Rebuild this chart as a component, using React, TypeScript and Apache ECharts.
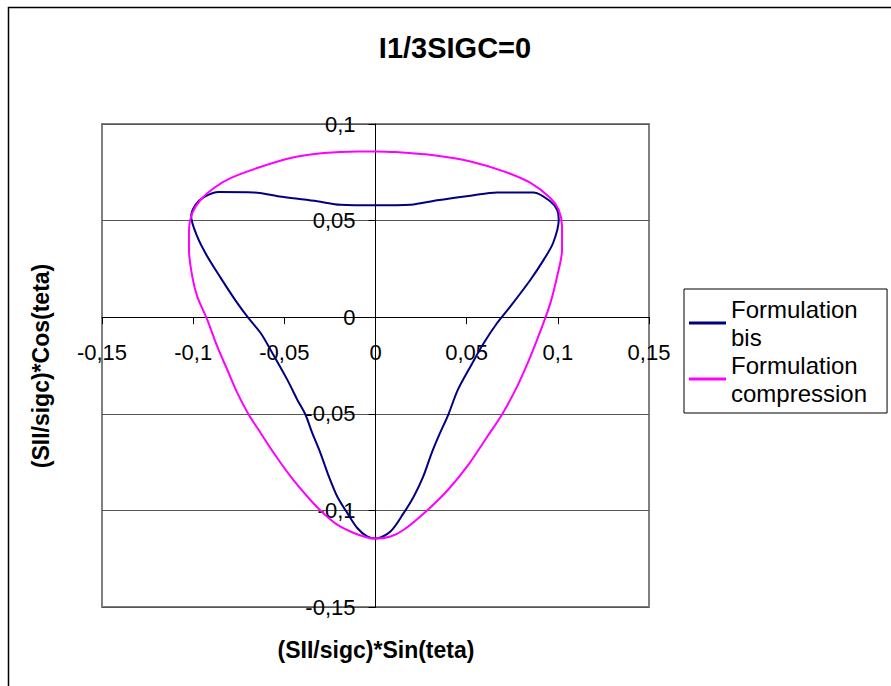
import React, { useEffect, useRef } from "react";
import * as echarts from "echarts";

const titleText = "I1/3SIGC=0";
const xAxisTitle = "(SII/sigc)*Sin(teta)";
const yAxisTitle = "(SII/sigc)*Cos(teta)";
const seriesNames = ["Formulation\nbis", "Formulation\ncompression"];

const xTicks = [-0.15, -0.1, -0.05, 0, 0.05, 0.1, 0.15];
const yTicks = [-0.15, -0.1, -0.05, 0, 0.05, 0.1];

const bisPoints: [number, number][] = [
  [0, 0.0579], [0.0192, 0.0582], [0.0338, 0.0605], [0.0521, 0.0629], [0.0667, 0.0646],
  [0.0868, 0.0646], [0.0959, 0.0599], [0.0996, 0.0556], [0.1005, 0.0505], [0.0974, 0.0384],
  [0.0923, 0.0298], [0.085, 0.0194], [0.074, 0.0056], [0.0667, -0.003], [0.0594, -0.0134],
  [0.0521, -0.0255], [0.0452, -0.0375], [0.0399, -0.0505], [0.0354, -0.0599], [0.0308, -0.0703],
  [0.0262, -0.0824], [0.021, -0.0928], [0.0155, -0.1013], [0.0082, -0.1109], [0, -0.1146],
  [-0.0046, -0.1135], [-0.01, -0.1091], [-0.0155, -0.1013], [-0.021, -0.0928], [-0.0256, -0.0824],
  [-0.0302, -0.0703], [-0.0347, -0.0599], [-0.0384, -0.0505], [-0.0429, -0.0427], [-0.0484, -0.0323],
  [-0.0576, -0.0168], [-0.063, -0.0082], [-0.0704, 0.0004], [-0.077, 0.009], [-0.085, 0.0205],
  [-0.0923, 0.0315], [-0.0978, 0.0418], [-0.1011, 0.0522], [-0.0987, 0.0582], [-0.0941, 0.0622],
  [-0.0859, 0.0648], [-0.0667, 0.0646], [-0.0503, 0.0622], [-0.032, 0.06], [-0.0192, 0.0582],
  [0, 0.0579],
];

const compressionPoints: [number, number][] = [
  [0, 0.0858], [0.01, 0.0855], [0.0338, 0.0836], [0.0521, 0.0806], [0.0703, 0.0755],
  [0.085, 0.0695], [0.0959, 0.0617], [0.1005, 0.0556], [0.1023, 0.047], [0.1023, 0.0349],
  [0.0996, 0.0211], [0.0959, 0.0073], [0.0914, -0.0048], [0.085, -0.0203], [0.0777, -0.0358],
  [0.0693, -0.0505], [0.0602, -0.0634], [0.051, -0.0763], [0.0398, -0.0893], [0.0283, -0.1],
  [0.0155, -0.11], [0.0082, -0.1135], [0, -0.1146], [-0.0046, -0.114], [-0.0119, -0.1117],
  [-0.021, -0.1074], [-0.0302, -0.1], [-0.0374, -0.0928], [-0.0466, -0.0824], [-0.0558, -0.0703],
  [-0.063, -0.0599], [-0.0695, -0.0505], [-0.0758, -0.0392], [-0.0813, -0.0272], [-0.0868, -0.0151],
  [-0.0923, -0.0013], [-0.0978, 0.0108], [-0.1005, 0.0211], [-0.1023, 0.0349], [-0.1023, 0.0453],
  [-0.1005, 0.0539], [-0.0959, 0.0608], [-0.0886, 0.0669], [-0.0795, 0.072], [-0.0649, 0.0772],
  [-0.0466, 0.0824], [-0.0283, 0.085], [-0.01, 0.0858], [0, 0.0858],
];

const FONT = "'Liberation Sans', Arial, sans-serif";

const GRID_LEFT = 102;
const GRID_TOP = 124;
const GRID_W = 547;
const GRID_H = 483;

const fmt = (v: number) => {
  const r = Math.round(v * 100) / 100;
  return (r === 0 ? "0" : String(r)).replace(".", ",");
};

export default function App() {
  const ref = useRef<HTMLDivElement>(null);
  useEffect(() => {
    if (!ref.current) return;
    const chart = echarts.init(ref.current, undefined, { renderer: "svg" });
    const xMin = xTicks[0];
    const xMax = xTicks[xTicks.length - 1];
    const yMin = yTicks[0];
    const yMax = yTicks[yTicks.length - 1];
    // axes cross at zero: shift each axis from the grid edge to the zero line
    const xAxisOffset = -(GRID_H * (0 - yMin)) / (yMax - yMin);
    const yAxisOffset = -(GRID_W * (0 - xMin)) / (xMax - xMin);
    chart.setOption({
      animation: false,
      backgroundColor: "#ffffff",
      grid: {
        left: GRID_LEFT,
        top: GRID_TOP,
        width: GRID_W,
        height: GRID_H,
        show: true,
        borderColor: "#808080",
        borderWidth: 2,
        backgroundColor: "transparent",
      },
      xAxis: {
        type: "value",
        position: "bottom",
        offset: xAxisOffset,
        min: xMin,
        max: xMax,
        interval: 0.05,
        axisLine: { onZero: false, lineStyle: { color: "#000", width: 1 } },
        axisTick: { show: true, length: 7, lineStyle: { color: "#000" } },
        splitLine: { show: false },
        axisLabel: {
          formatter: fmt,
          fontFamily: FONT,
          fontSize: 22,
          color: "#000",
          margin: 24,
          showMinLabel: true,
          showMaxLabel: true,
        },
      },
      yAxis: {
        type: "value",
        position: "left",
        offset: yAxisOffset,
        min: yMin,
        max: yMax,
        interval: 0.05,
        axisLine: { onZero: false, lineStyle: { color: "#000", width: 1 } },
        axisTick: { show: true, length: 7, lineStyle: { color: "#000" } },
        splitLine: { show: true, lineStyle: { color: "#555", width: 1 } },
        axisLabel: {
          formatter: fmt,
          fontFamily: FONT,
          fontSize: 22,
          color: "#000",
          margin: 20,
          showMinLabel: true,
          showMaxLabel: true,
        },
      },
      legend: {
        orient: "vertical",
        left: 684,
        top: 289,
        padding: [6, 20, 6, 5],
        itemGap: 0,
        itemWidth: 37,
        itemHeight: 3,
        icon: "rect",
        borderColor: "#000",
        borderWidth: 1,
        backgroundColor: "#fff",
        textStyle: { fontFamily: FONT, fontSize: 24, color: "#000", lineHeight: 28 },
        data: seriesNames,
      },
      series: [
        {
          name: seriesNames[0],
          type: "line",
          data: bisPoints,
          showSymbol: false,
          smooth: 0.3,
          color: "#000080",
          lineStyle: { color: "#000080", width: 2 },
        },
        {
          name: seriesNames[1],
          type: "line",
          data: compressionPoints,
          showSymbol: false,
          smooth: 0.3,
          color: "#ff00ff",
          lineStyle: { color: "#ff00ff", width: 2 },
        },
      ],
      graphic: [
        {
          type: "rect",
          shape: { x: 8.5, y: 7.5, width: 1000, height: 1000 },
          style: { fill: "none", stroke: "#000", lineWidth: 1.5 },
          silent: true,
        },
        {
          type: "text",
          x: 455,
          y: 48,
          style: {
            text: titleText,
            font: `bold 29px ${FONT}`,
            fill: "#000",
            align: "center",
            verticalAlign: "middle",
          },
        },
        {
          type: "text",
          x: 376,
          y: 650,
          style: {
            text: xAxisTitle,
            font: `bold 23px ${FONT}`,
            fill: "#000",
            align: "center",
            verticalAlign: "middle",
          },
        },
        {
          type: "text",
          x: 41,
          y: 366,
          rotation: Math.PI / 2,
          style: {
            text: yAxisTitle,
            font: `bold 23px ${FONT}`,
            fill: "#000",
            align: "center",
            verticalAlign: "middle",
          },
        },
      ],
    });
    return () => chart.dispose();
  }, []);
  return (
    <div
      ref={ref}
      style={{ position: "fixed", left: 0, top: 0, width: 891, height: 686 }}
    />
  );
}
